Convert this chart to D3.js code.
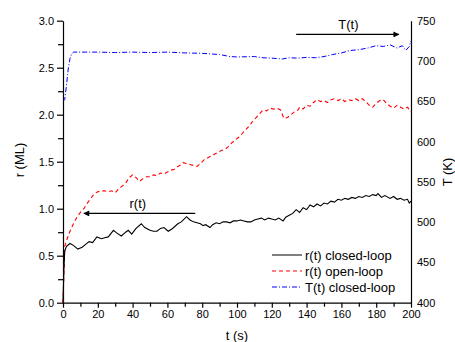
<!DOCTYPE html>
<html>
<head>
<meta charset="utf-8">
<script src="https://cdn.jsdelivr.net/npm/d3@7"></script>
<style>
  body { margin: 0; background: #fff; }
  svg text { font-family: "Liberation Sans", Arial, sans-serif; fill: #000; }
</style>
</head>
<body>
<svg id="chart" width="455" height="342"></svg>
<script>
// r(t) closed-loop
const closedTime = [0, 0.5, 1, 2, 4, 6, 8.5, 11, 13, 15, 17, 19.5, 22, 24, 26, 29, 31, 33.5, 36, 37.5, 39.5, 42, 45, 47, 50, 52, 54, 56, 58, 60.5, 63, 66, 68, 71, 73, 75, 77, 79, 80.5, 82, 84.5, 86, 88, 90, 92, 94, 96, 98, 100, 102, 104, 106, 108, 110, 112, 114, 116, 118, 120, 122, 124, 126.5, 128, 130, 132, 134, 136, 138, 140, 142, 144, 146, 148, 150, 152, 154, 156, 158, 160, 162, 164, 166, 168, 170, 172, 174, 176, 178, 180, 181, 183, 185, 188, 190, 192, 194, 196, 198, 199, 200];
const closedR = [0, 0.35, 0.55, 0.6, 0.63, 0.61, 0.57, 0.59, 0.62, 0.65, 0.64, 0.70, 0.68, 0.69, 0.70, 0.77, 0.74, 0.71, 0.75, 0.77, 0.73, 0.79, 0.84, 0.80, 0.77, 0.76, 0.76, 0.79, 0.80, 0.76, 0.79, 0.84, 0.86, 0.915, 0.88, 0.86, 0.85, 0.84, 0.82, 0.83, 0.80, 0.83, 0.85, 0.84, 0.86, 0.86, 0.85, 0.87, 0.87, 0.88, 0.87, 0.86, 0.86, 0.88, 0.89, 0.90, 0.88, 0.90, 0.89, 0.88, 0.90, 0.87, 0.91, 0.93, 0.95, 0.99, 0.96, 1.01, 0.99, 1.04, 1.02, 1.05, 1.03, 1.06, 1.05, 1.08, 1.07, 1.10, 1.09, 1.11, 1.10, 1.12, 1.11, 1.13, 1.12, 1.14, 1.13, 1.15, 1.14, 1.16, 1.12, 1.14, 1.11, 1.13, 1.10, 1.11, 1.09, 1.10, 1.06, 1.08];

// r(t) open-loop
const openTime = [0, 0.5, 1, 2, 4, 6, 8, 10, 12, 14, 16, 18, 20, 22, 24, 26, 28, 30, 32, 34, 36, 38, 40, 42, 44, 46, 48, 50, 52, 54, 56, 58, 60, 62, 64, 66, 68, 69, 71, 73, 75, 77, 79, 81, 83, 85, 87, 89, 91, 93, 95, 97, 99, 101, 103, 105, 107, 109, 111, 113, 115, 117, 119, 121, 123, 125, 127, 129, 131, 133, 135, 136, 138, 140, 142, 144, 146, 148, 150, 152, 154, 156, 158, 160, 162, 164, 166, 168, 170, 172, 174, 176, 178, 180, 182, 184, 186, 188, 190, 192, 194, 196, 198, 200];
const openR = [0, 0.3, 0.6, 0.66, 0.76, 0.84, 0.91, 0.96, 1.0, 1.06, 1.11, 1.16, 1.18, 1.19, 1.19, 1.18, 1.19, 1.17, 1.21, 1.24, 1.27, 1.33, 1.36, 1.33, 1.29, 1.32, 1.34, 1.34, 1.36, 1.35, 1.38, 1.37, 1.39, 1.41, 1.42, 1.45, 1.47, 1.49, 1.48, 1.47, 1.46, 1.45, 1.48, 1.52, 1.54, 1.56, 1.58, 1.60, 1.62, 1.63, 1.66, 1.70, 1.73, 1.76, 1.80, 1.84, 1.88, 1.93, 1.97, 2.01, 2.05, 2.04, 2.07, 2.06, 2.07, 2.05, 1.96, 1.97, 2.00, 2.03, 2.05, 2.08, 2.06, 2.10, 2.09, 2.13, 2.16, 2.14, 2.15, 2.13, 2.16, 2.17, 2.15, 2.17, 2.14, 2.16, 2.15, 2.17, 2.15, 2.17, 2.14, 2.10, 2.08, 2.12, 2.15, 2.16, 2.12, 2.09, 2.07, 2.10, 2.08, 2.06, 2.08, 2.03];

// T(t) closed-loop
const tempTime = [0, 1, 2, 3, 4, 5, 6, 10, 20, 30, 40, 50, 60, 70, 80, 90, 96, 100, 110, 115, 120, 126, 130, 135, 140, 145, 150, 155, 160, 165, 170, 175, 180, 184, 188, 192, 195, 197, 199, 200];
const tempK = [650, 652, 670, 690, 703, 709, 711, 711, 711, 710.5, 711, 710.5, 711, 710, 709.5, 708, 705.5, 705, 705.5, 704, 703.5, 702.5, 704, 703.5, 704.5, 704, 705.5, 708, 710, 713, 714, 716, 719, 718, 720, 716, 719, 713, 718, 725];

const xTicks = [0, 20, 40, 60, 80, 100, 120, 140, 160, 180, 200];
const rTicks = [0, 0.5, 1.0, 1.5, 2.0, 2.5, 3.0];
const tempTicks = [400, 450, 500, 550, 600, 650, 700, 750];

const legendItems = [
  { label: "r(t) closed-loop", color: "#000", dash: null },
  { label: "r(t) open-loop", color: "#ff0000", dash: "4,3" },
  { label: "T(t) closed-loop", color: "#0000ff", dash: "5,2,1,2" },
];

const plotLeft = 63, plotRight = 411, plotTop = 20.7, plotBottom = 302.7;
const svg = d3.select("#chart");

const x = d3.scaleLinear().domain([0, 200]).range([plotLeft, plotRight]);
const yR = d3.scaleLinear().domain([0, 3]).range([plotBottom, plotTop]);
const yT = d3.scaleLinear().domain([400, 750]).range([plotBottom, plotTop]);

// arrow marker
const defs = svg.append("defs");
defs.append("marker")
  .attr("id", "head")
  .attr("viewBox", "0 0 10 10")
  .attr("refX", 9)
  .attr("refY", 5)
  .attr("markerWidth", 8)
  .attr("markerHeight", 6)
  .attr("markerUnits", "userSpaceOnUse")
  .attr("orient", "auto")
  .append("path")
  .attr("d", "M0,0L10,5L0,10z")
  .attr("fill", "#000");

// axes
svg.append("g")
  .attr("transform", `translate(0,${plotBottom})`)
  .call(d3.axisBottom(x).tickValues(xTicks).tickSize(5).tickSizeOuter(0).tickFormat(d3.format("d")));
svg.append("g")
  .attr("transform", `translate(0,${plotBottom})`)
  .call(d3.axisBottom(x).tickValues(d3.range(10, 200, 20)).tickSize(4).tickSizeOuter(0).tickFormat(""))
  .select(".domain").remove();

svg.append("g")
  .attr("transform", `translate(${plotLeft},0)`)
  .call(d3.axisLeft(yR).tickValues(rTicks).tickSize(6).tickSizeOuter(0).tickFormat(d3.format(".1f")));
svg.append("g")
  .attr("transform", `translate(${plotLeft},0)`)
  .call(d3.axisLeft(yR).tickValues(d3.range(0.25, 3, 0.5)).tickSize(5).tickSizeOuter(0).tickFormat(""))
  .select(".domain").remove();

svg.append("g")
  .attr("transform", `translate(${plotRight},0)`)
  .call(d3.axisRight(yT).tickValues(tempTicks).tickSize(0).tickSizeOuter(0).tickPadding(6));

svg.selectAll(".domain").attr("stroke", "#000").attr("stroke-width", 1.2);
svg.selectAll(".tick line").attr("stroke", "#000").attr("stroke-width", 1.2);
svg.selectAll(".tick text")
  .attr("font-size", 11)
  .attr("font-family", "Liberation Sans, Arial, sans-serif");

// axis titles
svg.append("text")
  .attr("x", 237).attr("y", 340)
  .attr("text-anchor", "middle")
  .attr("font-size", 13)
  .text("t (s)");
svg.append("text")
  .attr("transform", "translate(24,160) rotate(-90)")
  .attr("text-anchor", "middle")
  .attr("font-size", 13)
  .text("r (ML)");
svg.append("text")
  .attr("transform", "translate(452,172) rotate(-90)")
  .attr("text-anchor", "middle")
  .attr("font-size", 13)
  .text("T (K)");

// series
const lineR = (times, vals) => d3.line()
  .x((d, i) => x(times[i]))
  .y(d => yR(d))(vals);

svg.append("path")
  .attr("d", d3.line().x((d, i) => x(tempTime[i])).y(d => yT(d))(tempK))
  .attr("fill", "none")
  .attr("stroke", "#0000ff")
  .attr("stroke-width", 1)
  .attr("stroke-dasharray", "5,2,1,2");

svg.append("path")
  .attr("d", lineR(openTime, openR))
  .attr("fill", "none")
  .attr("stroke", "#ff0000")
  .attr("stroke-width", 1.1)
  .attr("stroke-dasharray", "4,3");

svg.append("path")
  .attr("d", lineR(closedTime, closedR))
  .attr("fill", "none")
  .attr("stroke", "#000")
  .attr("stroke-width", 1.1);

// arrows
svg.append("line")
  .attr("x1", x(76)).attr("y1", yR(0.95))
  .attr("x2", x(12)).attr("y2", yR(0.95))
  .attr("stroke", "#000").attr("stroke-width", 1.1)
  .attr("marker-end", "url(#head)");
svg.append("text")
  .attr("x", x(43)).attr("y", yR(0.95) - 5)
  .attr("text-anchor", "middle")
  .attr("font-size", 13)
  .text("r(t)");

svg.append("line")
  .attr("x1", x(134)).attr("y1", yT(733))
  .attr("x2", x(193)).attr("y2", yT(733))
  .attr("stroke", "#000").attr("stroke-width", 1.1)
  .attr("marker-end", "url(#head)");
svg.append("text")
  .attr("x", x(164)).attr("y", yT(733) - 5)
  .attr("text-anchor", "middle")
  .attr("font-size", 13)
  .text("T(t)");

// legend
const legend = svg.append("g").attr("transform", "translate(272,255)");
legendItems.forEach((item, i) => {
  const row = legend.append("g").attr("transform", `translate(0,${i * 16})`);
  row.append("line")
    .attr("x1", 0).attr("x2", 30)
    .attr("y1", 0).attr("y2", 0)
    .attr("stroke", item.color)
    .attr("stroke-width", 1)
    .attr("stroke-dasharray", item.dash);
  row.append("text")
    .attr("x", 33).attr("y", 4.5)
    .attr("font-size", 13)
    .text(item.label);
});
</script>
</body>
</html>
